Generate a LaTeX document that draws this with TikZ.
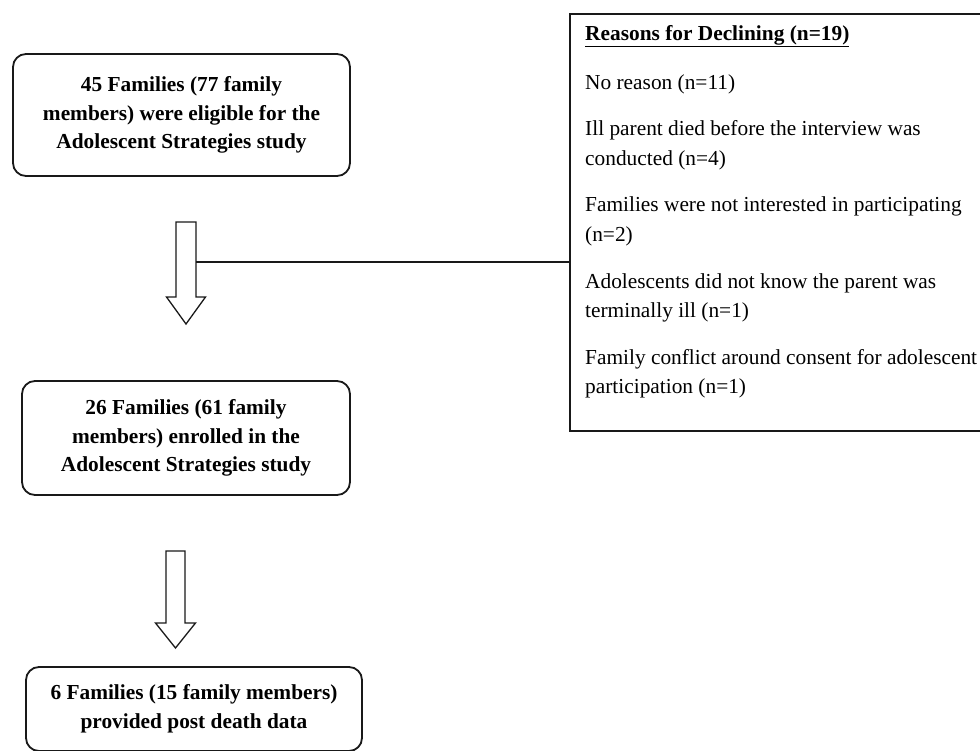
\documentclass[tikz,border=0pt]{standalone}
\usepackage{fontspec}
\setmainfont{Liberation Serif}
\begin{document}
\begin{tikzpicture}[x=1pt,y=1pt,
  flowbox/.style={draw=black!90, line width=1.8pt, rounded corners=13pt, align=center,
    inner sep=0pt, font=\fontsize{21.35}{28.5}\selectfont\bfseries},
  reasonbox/.style={draw=black!90, line width=1.8pt, inner sep=0pt},
  reasontext/.style={align=left, inner sep=0pt, font=\fontsize{21.35}{29.3}\selectfont},
  blockarrow/.style={draw=black!90, line width=1.3pt, fill=white, line join=miter},
  link/.style={draw=black!90, line width=1.3pt}]
\useasboundingbox (0,0) rectangle (980,-751);
\clip (0,0) rectangle (980,-751);
\fill[white] (0,0) rectangle (980,-751);

% boxes
\node[flowbox, minimum width=337pt, minimum height=122pt] (b1) at (181.5,-115)
  {45 Families (77 family\\ members) were eligible for the\\ Adolescent Strategies study};
\node[flowbox, minimum width=328pt, minimum height=114pt] (b2) at (186,-438)
  {26 Families (61 family\\ members) enrolled in the\\ Adolescent Strategies study};
\node[flowbox, minimum width=336pt, minimum height=84pt] (b3) at (194,-709)
  {6 Families (15 family members)\\ provided post death data};

\node[reasonbox, minimum width=430pt, minimum height=417pt, anchor=north west] (reasons) at (569,-13) {};
\node[reasontext, anchor=north west] (rtext) at ([xshift=16pt,yshift=-12pt]reasons.north west)
  {\textbf{\underline{Reasons for Declining (n=19)}}\\[19.5pt]
   No reason (n=11)\\[17.5pt]
   Ill parent died before the interview was\\
   conducted (n=4)\\[17.5pt]
   Families were not interested in participating\\
   (n=2)\\[17.5pt]
   Adolescents did not know the parent was\\
   terminally ill (n=1)\\[17.5pt]
   Family conflict around consent for adolescent\\
   participation (n=1)};

% block arrow 1
\coordinate (a1top) at (186,-222);
\draw[blockarrow] (a1top) ++(-10,0) -- ++(0,-75) -- ++(-9.5,0) -- (186,-324) -- (205.5,-297) -- (196,-297) -- (196,-222) -- cycle;
\coordinate (a1r) at (196,-262);
\draw[link] (a1r) -- (a1r -| reasons.west);

% block arrow 2
\coordinate (a2top) at (175.5,-551);
\draw[blockarrow] (a2top) ++(-9.5,0) -- ++(0,-72) -- ++(-10.5,0) -- (175.5,-648) -- (195.5,-623) -- (185,-623) -- (185,-551) -- cycle;
\end{tikzpicture}
\end{document}
